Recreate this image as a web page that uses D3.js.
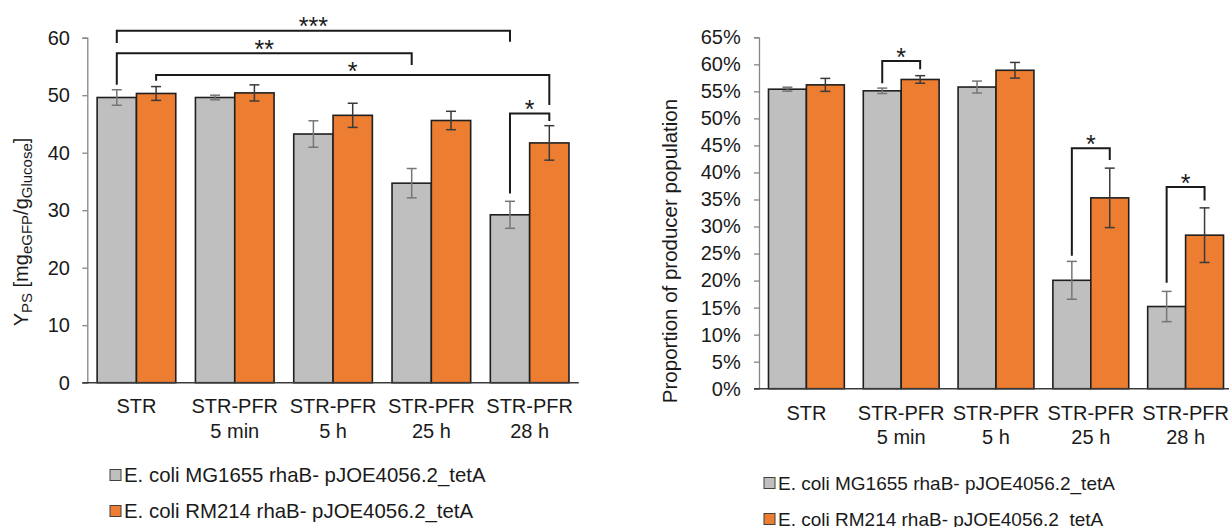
<!DOCTYPE html>
<html>
<head>
<meta charset="utf-8">
<script src="https://cdn.jsdelivr.net/npm/d3@7"></script>
<style>
  body { margin: 0; background: #fff; }
  svg { display: block; font-family: "Liberation Sans", Arial, sans-serif; }
</style>
</head>
<body>
<script>
// categories and series
var categories = ["STR", "STR-PFR 5 min", "STR-PFR 5 h", "STR-PFR 25 h", "STR-PFR 28 h"];
var categoryLines = [["STR"], ["STR-PFR", "5 min"], ["STR-PFR", "5 h"], ["STR-PFR", "25 h"], ["STR-PFR", "28 h"]];
var seriesNames = ["E. coli MG1655 rhaB- pJOE4056.2_tetA", "E. coli RM214 rhaB- pJOE4056.2_tetA"];
var seriesColors = ["#bfbfbf", "#ed7d31"];
var errColors = ["#767676", "#3a3a3a"];

// left chart: product yield Y_PS
var yieldMG    = [49.6, 49.6, 43.25, 34.7, 29.2];
var yieldMGErr = [1.35, 0.4, 2.3, 2.55, 2.35];
var yieldRM    = [50.3, 50.4, 46.5, 45.6, 41.7];
var yieldRMErr = [1.2, 1.4, 2.1, 1.6, 3.0];
var yieldTicks = [0, 10, 20, 30, 40, 50, 60];

// right chart: proportion of producer population (%)
var propMG    = [55.4, 55.1, 55.8, 20.05, 15.2];
var propMGErr = [0.37, 0.5, 1.1, 3.5, 2.8];
var propRM    = [56.2, 57.2, 58.9, 35.3, 28.4];
var propRMErr = [1.2, 0.7, 1.45, 5.5, 5.05];
var propTicks = [0, 5, 10, 15, 20, 25, 30, 35, 40, 45, 50, 55, 60, 65];

// significance brackets: [cat, series] -> [cat, series], top, leg ends, label
var yieldSig = [
  {from: [0, 0], to: [4, 0], top: 61.2, leftEnd: 59.1, rightEnd: 59.3, label: "***"},
  {from: [0, 0], to: [3, 0], top: 57.3, leftEnd: 51.8, rightEnd: 55.25, label: "**"},
  {from: [0, 1], to: [4, 1], top: 53.5, leftEnd: 52.5, rightEnd: 48.3, label: "*"},
  {from: [4, 0], to: [4, 1], top: 46.8, leftEnd: 32.9, rightEnd: 45.5, label: "*"}
];
var propSig = [
  {from: [1, 0], to: [1, 1], top: 60.6, leftEnd: 56.5, rightEnd: 59.1, label: "*"},
  {from: [3, 0], to: [3, 1], top: 44.5, leftEnd: 24.6, rightEnd: 42.3, label: "*"},
  {from: [4, 0], to: [4, 1], top: 37.3, leftEnd: 19.6, rightEnd: 34.8, label: "*"}
];

var svg = d3.select("body").append("svg")
    .attr("width", 1229)
    .attr("height", 527);

drawChart({
  xRange: [87.3, 578.8], yRange: [382.7, 37.7], domain: [0, 60],
  ticks: yieldTicks, fmt: function(d) { return d; },
  values: [yieldMG, yieldRM], errs: [yieldMGErr, yieldRMErr], sig: yieldSig,
  tickPad: 12.4, fontSize: 20, labelY: [413.3, 437.7],
  legendX: 110, legendY: [482, 518], legendFont: 20.4
});

drawChart({
  xRange: [759, 1233], yRange: [388.7, 37.3], domain: [0, 65],
  ticks: propTicks, fmt: function(d) { return d + "%"; },
  values: [propMG, propRM], errs: [propMGErr, propRMErr], sig: propSig,
  tickPad: 13.3, fontSize: 20, labelY: [419.5, 443.5],
  legendX: 764, legendY: [490, 526], legendFont: 19
});

// y axis titles
var yt1 = svg.append("text")
    .attr("transform", "translate(28,232) rotate(-90)")
    .attr("text-anchor", "middle")
    .style("font-size", "20px")
    .attr("fill", "#1a1a1a");
yt1.append("tspan").text("Y");
yt1.append("tspan").attr("dy", 4).style("font-size", "15px").text("PS");
yt1.append("tspan").attr("dy", -4).text(" [mg");
yt1.append("tspan").attr("dy", 4).style("font-size", "15px").text("eGFP");
yt1.append("tspan").attr("dy", -4).text("/g");
yt1.append("tspan").attr("dy", 4).style("font-size", "15px").text("Glucose");
yt1.append("tspan").attr("dy", -4).text("]");

svg.append("text")
    .attr("transform", "translate(676.5,251) rotate(-90)")
    .attr("text-anchor", "middle")
    .style("font-size", "20.5px")
    .attr("fill", "#1a1a1a")
    .text("Proportion of producer population");

function drawChart(c) {
  var x = d3.scaleBand().domain(categories).range(c.xRange);
  var y = d3.scaleLinear().domain(c.domain).range(c.yRange);
  var bw = x.bandwidth() * 0.4;
  var off = x.bandwidth() * 0.1;
  var g = svg.append("g");

  function barX(ci, si) { return x(categories[ci]) + off + si * bw; }
  function barMid(ci, si) { return barX(ci, si) + bw / 2; }

  // y axis
  var yAxis = g.append("g")
      .attr("transform", "translate(" + c.xRange[0] + ",0)")
      .call(d3.axisLeft(y).tickValues(c.ticks).tickFormat(c.fmt).tickSize(5).tickPadding(c.tickPad));
  yAxis.select(".domain").attr("stroke", "#868686").attr("stroke-width", 1.3);
  yAxis.selectAll(".tick line").attr("stroke", "#868686").attr("stroke-width", 1.3);
  yAxis.selectAll(".tick text")
      .style("font-size", c.fontSize + "px")
      .attr("fill", "#1a1a1a")
      .attr("font-family", null);

  // bars
  c.values.forEach(function(vals, si) {
    g.selectAll(".bar" + si)
        .data(vals)
        .enter().append("rect")
        .attr("x", function(d, i) { return barX(i, si); })
        .attr("y", function(d) { return y(d); })
        .attr("width", bw)
        .attr("height", function(d) { return y(0) - y(d); })
        .attr("fill", seriesColors[si])
        .attr("stroke", "#1f1f1f")
        .attr("stroke-width", 1.6);
  });

  // x axis line
  g.append("line")
      .attr("x1", c.xRange[0] - 5).attr("x2", c.xRange[1])
      .attr("y1", y(0)).attr("y2", y(0))
      .attr("stroke", "#3a3a3a")
      .attr("stroke-width", 1.6);

  // error bars
  c.values.forEach(function(vals, si) {
    var errs = c.errs[si];
    vals.forEach(function(v, i) {
      var cx = barMid(i, si);
      var eg = g.append("g").attr("stroke", errColors[si]).attr("stroke-width", 1.5);
      eg.append("line").attr("x1", cx).attr("x2", cx).attr("y1", y(v + errs[i])).attr("y2", y(v - errs[i]));
      eg.append("line").attr("x1", cx - 5).attr("x2", cx + 5).attr("y1", y(v + errs[i])).attr("y2", y(v + errs[i]));
      eg.append("line").attr("x1", cx - 5).attr("x2", cx + 5).attr("y1", y(v - errs[i])).attr("y2", y(v - errs[i]));
    });
  });

  // category labels
  categoryLines.forEach(function(lines, i) {
    var t = g.append("text")
        .attr("text-anchor", "middle")
        .style("font-size", c.fontSize + "px")
        .attr("fill", "#1a1a1a");
    lines.forEach(function(l, k) {
      t.append("tspan")
          .attr("x", x(categories[i]) + x.bandwidth() / 2)
          .attr("y", c.labelY[k])
          .text(l);
    });
  });

  // significance brackets
  c.sig.forEach(function(s) {
    var x1 = barMid(s.from[0], s.from[1]);
    var x2 = barMid(s.to[0], s.to[1]);
    g.append("path")
        .attr("d", "M" + x1 + "," + y(s.leftEnd) + "V" + y(s.top) + "H" + x2 + "V" + y(s.rightEnd))
        .attr("fill", "none")
        .attr("stroke", "#1a1a1a")
        .attr("stroke-width", 2);
    g.append("text")
        .attr("x", (x1 + x2) / 2)
        .attr("y", y(s.top) - 5 + 12)
        .attr("dy", "-0.1em")
        .attr("text-anchor", "middle")
        .style("font-size", "25px")
        .attr("fill", "#1a1a1a")
        .text(s.label);
  });

  // legend
  seriesNames.forEach(function(name, si) {
    g.append("rect")
        .attr("x", c.legendX)
        .attr("y", c.legendY[si] - 12.5)
        .attr("width", 11)
        .attr("height", 11)
        .attr("fill", seriesColors[si])
        .attr("stroke", "#404040")
        .attr("stroke-width", 1);
    g.append("text")
        .attr("x", c.legendX + 14)
        .attr("y", c.legendY[si])
        .style("font-size", c.legendFont + "px")
        .attr("fill", "#1a1a1a")
        .text(name);
  });
}
</script>
</body>
</html>
